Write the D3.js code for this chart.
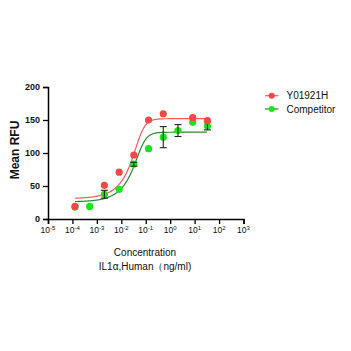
<!DOCTYPE html>
<html>
<head>
<meta charset="utf-8">
<script src="https://cdn.jsdelivr.net/npm/d3@7"></script>
<style>
  body { margin: 0; background: #fff; }
  text { font-family: "Liberation Sans", Arial, sans-serif; }
</style>
</head>
<body>
<div id="chart"></div>
<script>
// 4-fold dilution concentrations (ng/ml)
var conc = [33.3, 8.33, 2.08, 0.52, 0.13, 0.0325, 0.00813, 0.00203, 0.000508, 0.000127];

// measured means (null = no point drawn)
var redMeans   = [149, 153.5, null, 159.5, 150, 97, 71, 51, null, 19];
var redErr     = [0, 0, 0, 0, 0, 0, 0, 0, 0, 0];
var greenMeans = [141, 146.5, 134, 124, 106.5, 83, 45, 37.5, 19, 18];
var greenErr   = [6, 0, 9, 16, 0, 3, 0, 6, 0, 0];

// fitted curve parameters (asymmetric sigmoid)
var redFit   = { bottom: 31, top: 152, logC: -1.233, hill: 2.5, s: 0.35 };
var greenFit = { bottom: 26, top: 131.5, logC: -1.18, hill: 2.5, s: 0.35 };

var seriesNames = ["Y01921H", "Competitor"];
var xTickExps = [-5, -4, -3, -2, -1, 0, 1, 2, 3];
var yTicks = [0, 50, 100, 150, 200];

var w = 351, h = 351;
var svg = d3.select('#chart').append('svg')
  .attr('width', w)
  .attr('height', h);

var x = d3.scaleLog().domain([1e-5, 1e3]).range([48, 243.5]);
var y = d3.scaleLinear().domain([0, 200]).range([219, 87]);

var red = '#f44848', green = '#19e619', redLine = '#ff5a5a', greenLine = '#2a8a2a';

function fit(p, lx) {
  var e = Math.pow(10, (p.logC - lx) * p.hill);
  return p.bottom + (p.top - p.bottom) / Math.pow(1 + e, p.s);
}

// curves
var lxs = d3.range(Math.log10(0.000127), Math.log10(33.3) + 0.001, 0.02);
var line = d3.line()
  .x(function(d) { return x(Math.pow(10, d[0])); })
  .y(function(d) { return y(d[1]); });

svg.append('path')
  .datum(lxs.map(function(lx) { return [lx, fit(greenFit, lx)]; }))
  .attr('d', line).attr('fill', 'none').attr('stroke', greenLine).attr('stroke-width', 1.2);
svg.append('path')
  .datum(lxs.map(function(lx) { return [lx, fit(redFit, lx)]; }))
  .attr('d', line).attr('fill', 'none').attr('stroke', redLine).attr('stroke-width', 1.2);

// points + error bars
function drawSeries(means, errs, color) {
  var pts = conc.map(function(c, i) { return { c: c, m: means[i], e: errs[i] }; })
    .filter(function(d) { return d.m !== null; });
  var g = svg.append('g');
  g.selectAll('circle').data(pts).enter().append('circle')
    .attr('cx', function(d) { return x(d.c); })
    .attr('cy', function(d) { return y(d.m); })
    .attr('r', 3.6)
    .attr('fill', color);
  var eb = g.selectAll('.eb').data(pts.filter(function(d) { return d.e > 0; })).enter().append('g')
    .attr('stroke', '#222').attr('stroke-width', 1.1);
  eb.append('line')
    .attr('x1', function(d) { return x(d.c); }).attr('x2', function(d) { return x(d.c); })
    .attr('y1', function(d) { return y(d.m - d.e); }).attr('y2', function(d) { return y(d.m + d.e); });
  [-1, 1].forEach(function(s) {
    eb.append('line')
      .attr('x1', function(d) { return x(d.c) - 3.5; }).attr('x2', function(d) { return x(d.c) + 3.5; })
      .attr('y1', function(d) { return y(d.m + s * d.e); }).attr('y2', function(d) { return y(d.m + s * d.e); });
  });
}
drawSeries(greenMeans, greenErr, green);
drawSeries(redMeans, redErr, red);

// y axis
var yAxis = svg.append('g').attr('transform', 'translate(48,0)')
  .call(d3.axisLeft(y).tickValues(yTicks).tickSize(5).tickPadding(3));
yAxis.select('.domain').attr('stroke-width', 1.5);
yAxis.selectAll('.tick line').attr('stroke-width', 1.3);
yAxis.selectAll('.tick text')
  .attr('font-family', '"Liberation Sans", Arial, sans-serif')
  .attr('font-size', 9).attr('font-weight', 'bold').attr('fill', '#111');

// x axis
var xAxis = svg.append('g').attr('transform', 'translate(0,219)')
  .call(d3.axisBottom(x).tickValues(xTickExps.map(function(e) { return Math.pow(10, e); }))
    .tickSize(5).tickFormat(''));
xAxis.select('.domain').attr('stroke-width', 1.5);
xAxis.selectAll('.tick line').attr('stroke-width', 1.3);

var xl = svg.append('g').selectAll('text').data(xTickExps).enter().append('text')
  .attr('x', function(d) { return x(Math.pow(10, d)); })
  .attr('y', 233)
  .attr('text-anchor', 'middle')
  .attr('font-size', 8.5).attr('fill', '#111');
xl.append('tspan').text('10');
xl.append('tspan').attr('dy', -3.5).attr('font-size', 6).text(function(d) { return d < 0 ? '-' + (-d) : d; });

// axis titles
svg.append('text')
  .attr('transform', 'translate(19,150) rotate(-90)')
  .attr('text-anchor', 'middle')
  .attr('font-size', 12).attr('font-weight', 'bold').attr('fill', '#111')
  .text('Mean RFU');
svg.append('text').attr('x', 145).attr('y', 256).attr('text-anchor', 'middle')
  .attr('font-size', 10).attr('fill', '#111').text('Concentration');
svg.append('text').attr('x', 145).attr('y', 270).attr('text-anchor', 'middle')
  .attr('font-size', 10).attr('fill', '#111').text('IL1α,Human（ng/ml)');

// legend
var leg = svg.append('g').selectAll('g').data(seriesNames).enter().append('g')
  .attr('transform', function(d, i) { return 'translate(265,' + (95.7 + i * 13.3) + ')'; });
leg.append('line').attr('x1', 0).attr('x2', 13.5).attr('y1', 0).attr('y2', 0)
  .attr('stroke', function(d, i) { return i === 0 ? redLine : greenLine; }).attr('stroke-width', 1.2);
leg.append('circle').attr('cx', 6.7).attr('cy', 0).attr('r', 3)
  .attr('fill', function(d, i) { return i === 0 ? red : green; });
leg.append('text').attr('x', 21.5).attr('y', 3.6).attr('font-size', 10).attr('fill', '#111')
  .text(function(d) { return d; });
</script>
</body>
</html>
